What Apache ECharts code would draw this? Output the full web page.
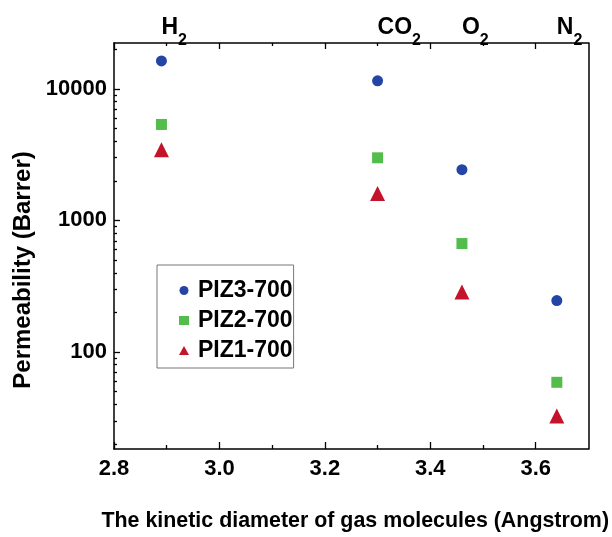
<!DOCTYPE html>
<html><head><meta charset="utf-8">
<script src="https://cdn.jsdelivr.net/npm/echarts@6/dist/echarts.min.js"></script>
<style>html,body{margin:0;padding:0;background:#fff}#c{width:612px;height:537px}</style>
</head><body><div id="c"></div>
<script>
// ---- data ----
const gasNames = ['H2', 'CO2', 'O2', 'N2'];
const kineticDiameter = [2.89, 3.30, 3.46, 3.64];
const seriesNames = ['PIZ3-700', 'PIZ2-700', 'PIZ1-700'];
const piz3 = [16300, 11500, 2430, 246];
const piz2 = [5360, 2990, 667, 58.8];
const piz1 = [3440, 1600, 286, 32.6];
const xMajorTicks = [2.8, 3.0, 3.2, 3.4, 3.6];
const xMinorTicks = [2.9, 3.1, 3.3, 3.5];
const yMajorTicks = [100, 1000, 10000];
const yMinorTicks = [20, 30, 40, 50, 60, 70, 80, 90, 200, 300, 400, 500, 600, 700, 800, 900,
  2000, 3000, 4000, 5000, 6000, 7000, 8000, 9000, 20000];
const xRange = [2.8, 3.7];
const yRange = [18.3, 22300];

// ---- style ----
const FF = '"Liberation Sans", Arial, sans-serif';
const lineStyle = { color: '#000', width: 1.5 };
const tickStyle = { color: '#000', width: 1.3 };
const colors = ['#2444a6', '#53bd4c', '#c4142b'];
const symbols = ['circle', 'rect', 'triangle'];
const sizes = [11, 11, 15];

function mkX(pos, ticks, len, showLine, label) {
  return {
    type: 'value', position: pos, min: xRange[0], max: xRange[1],
    axisLine: { show: showLine, onZero: false, lineStyle },
    axisTick: { show: true, inside: true, length: len, customValues: ticks, lineStyle: tickStyle },
    axisLabel: label || { show: false },
    splitLine: { show: false }
  };
}
function mkY(pos, ticks, len, showLine, label) {
  return {
    type: 'log', logBase: 10, position: pos, min: yRange[0], max: yRange[1],
    axisLine: { show: showLine, onZero: false, lineStyle },
    axisTick: ticks ? { show: true, inside: true, length: len, customValues: ticks, lineStyle: tickStyle } : { show: false },
    axisLabel: label || { show: false },
    splitLine: { show: false }
  };
}

const xAxes = [
  Object.assign(mkX('bottom', xMajorTicks, 7, true, {
    show: true, customValues: xMajorTicks, margin: 9,
    formatter: v => v.toFixed(1),
    fontFamily: FF, fontWeight: 'bold', fontSize: 22, color: '#000'
  }), {
    name: 'The kinetic diameter of gas molecules (Angstrom)',
    nameLocation: 'middle', nameGap: 62,
    nameTextStyle: { fontFamily: FF, fontWeight: 'bold', fontSize: 21.4, color: '#000', padding: [0, 0, 0, 8] }
  }),
  mkX('bottom', xMinorTicks, 4, false),
  mkX('top', xMajorTicks, 6, true, {
    show: true, customValues: kineticDiameter, margin: 3, align: 'left',
    formatter: v => {
      const i = kineticDiameter.indexOf(v);
      const n = gasNames[i];
      return '{g|' + n.slice(0, -1) + '}{s|' + n.slice(-1) + '}';
    },
    rich: {
      g: { fontFamily: FF, fontWeight: 'bold', fontSize: 23, lineHeight: 24, color: '#000', verticalAlign: 'top' },
      s: { fontFamily: FF, fontWeight: 'bold', fontSize: 16, lineHeight: 16, color: '#000', verticalAlign: 'top', padding: [17, 0, 0, 0] }
    }
  }),
  mkX('top', xMinorTicks, 3, false)
];

const yAxes = [
  Object.assign(mkY('left', yMajorTicks, 6, true, {
    show: true, customValues: yMajorTicks, margin: 7,
    formatter: v => String(Math.round(v)),
    fontFamily: FF, fontWeight: 'bold', fontSize: 22, color: '#000'
  }), {
    name: 'Permeability (Barrer)', nameLocation: 'middle', nameGap: 64,
    nameTextStyle: { fontFamily: FF, fontWeight: 'bold', fontSize: 24, color: '#000', padding: [0, 48, 0, 0] }
  }),
  mkY('left', yMinorTicks, 3, false),
  mkY('right', null, 0, true)
];

const seriesData = [piz3, piz2, piz1];
const series = seriesData.map((vals, k) => ({
  name: seriesNames[k], type: 'scatter', xAxisIndex: 0, yAxisIndex: 0,
  symbol: symbols[k], symbolSize: sizes[k],
  itemStyle: { color: colors[k], opacity: 1 },
  data: kineticDiameter.map((x, i) => [x, vals[i]])
}));

const chart = echarts.init(document.getElementById('c'), null, { renderer: 'canvas' });
chart.setOption({
  animation: false,
  backgroundColor: '#fff',
  grid: { left: 114, top: 43, right: 22, bottom: 84, containLabel: false },
  xAxis: xAxes,
  yAxis: yAxes,
  legend: {
    orient: 'vertical', left: 157, top: 265,
    data: seriesNames,
    itemWidth: 10, itemHeight: 9, itemGap: 7,
    padding: [14, 1, 6, 22],
    borderColor: '#777', borderWidth: 1,
    textStyle: { fontFamily: FF, fontWeight: 'bold', fontSize: 23, color: '#000', padding: [0, 0, 0, 4] }
  },
  series
});
</script></body></html>
